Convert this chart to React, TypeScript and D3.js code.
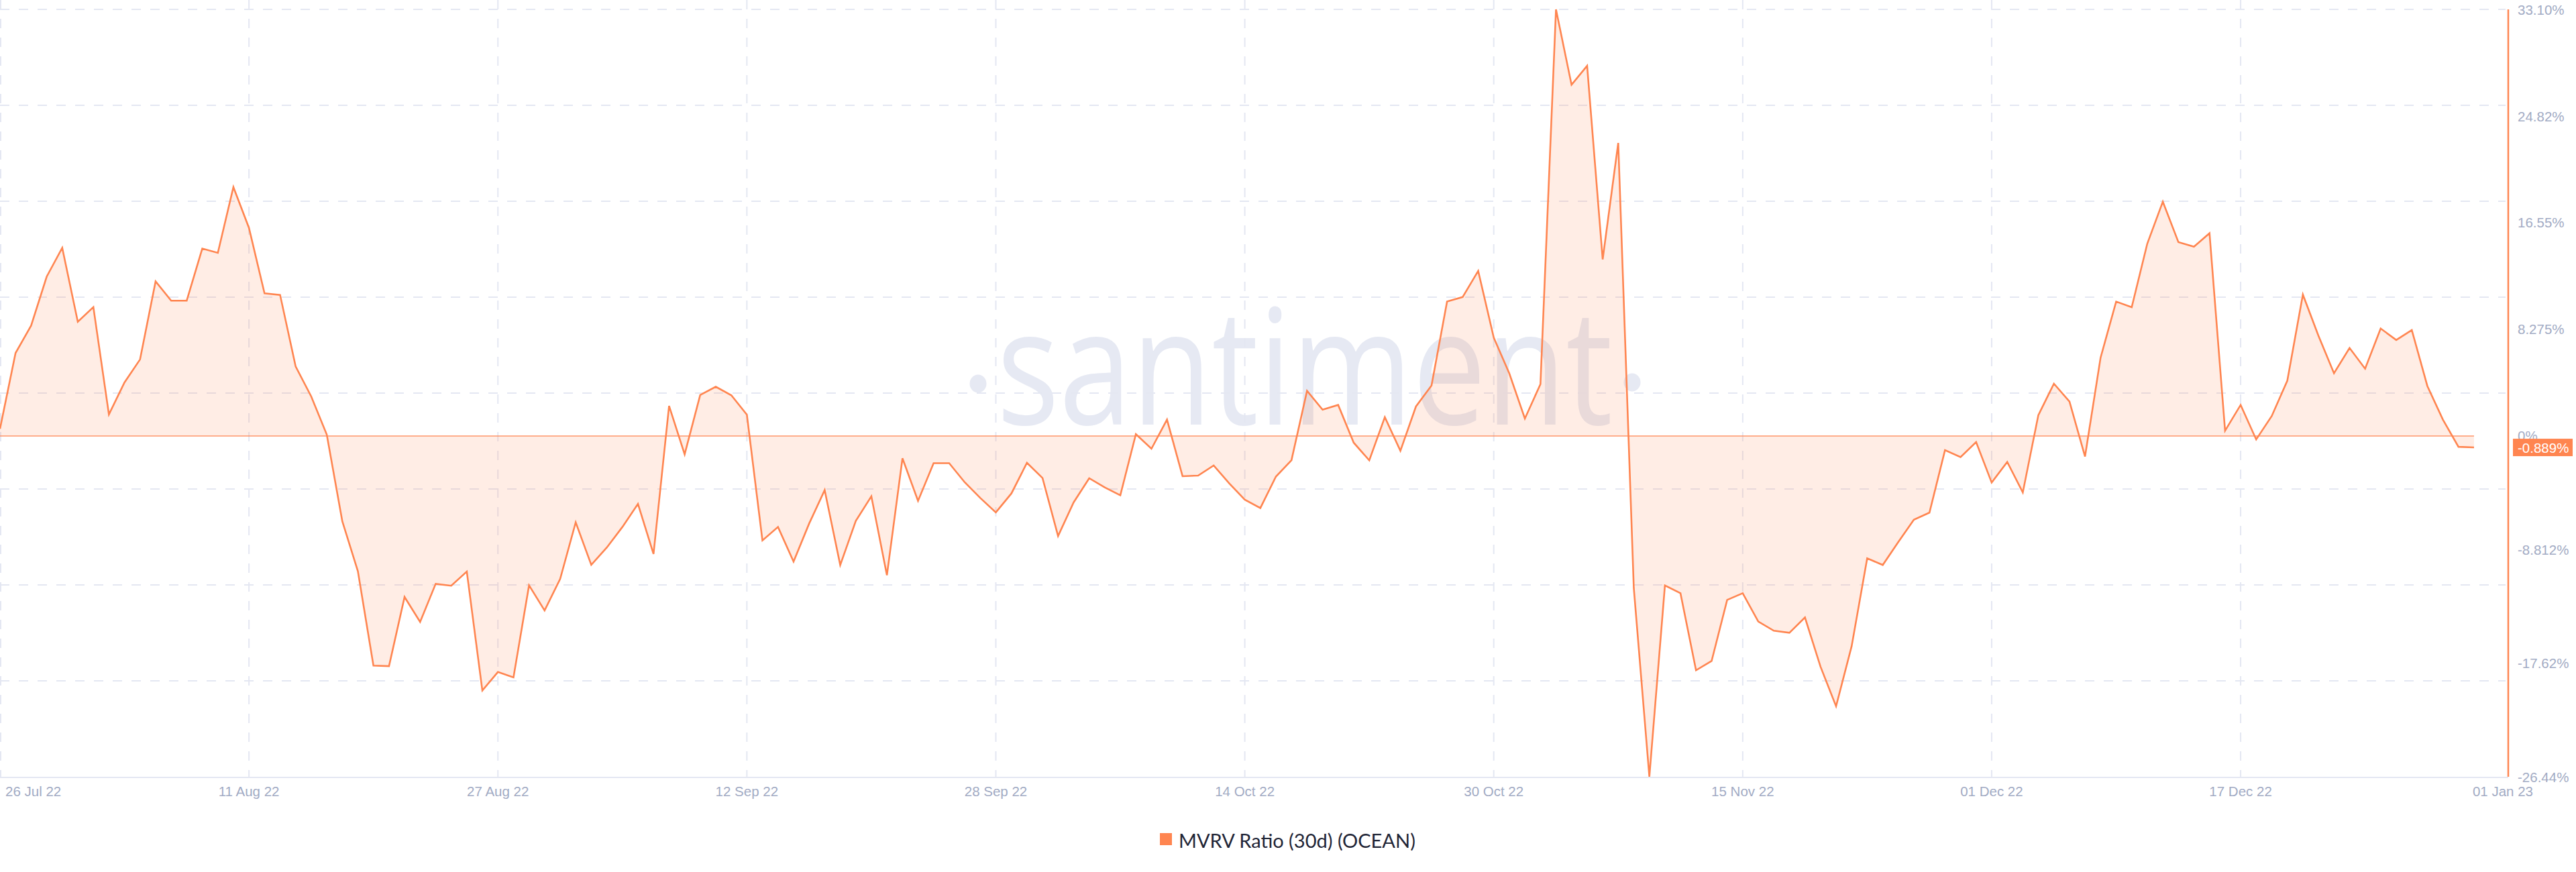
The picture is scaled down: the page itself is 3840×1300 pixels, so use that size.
import React from "react";
import * as d3 from "d3";

const startDate = "2022-07-26";

const mvrvValues: number[] = [
  0.56, 6.44, 8.56, 12.36, 14.6, 8.86, 10.0, 1.67, 4.15, 5.94,
  12.0, 10.5, 10.5, 14.54, 14.21, 19.31, 16.15, 11.07, 10.95, 5.4,
  3.07, 0.11, -6.62, -10.49, -17.81, -17.86, -12.49, -14.43, -11.47, -11.62,
  -10.52, -19.75, -18.31, -18.73, -11.59, -13.54, -11.09, -6.7, -10.0, -8.65,
  -7.06, -5.27, -9.15, 2.33, -1.42, 3.18, 3.82, 3.16, 1.65, -8.1,
  -7.06, -9.75, -6.8, -4.2, -10.01, -6.59, -4.68, -10.8, -1.73, -5.03,
  -2.11, -2.11, -3.59, -4.81, -5.93, -4.46, -2.08, -3.26, -7.76, -5.15,
  -3.28, -3.99, -4.6, 0.14, -0.99, 1.27, -3.12, -3.07, -2.29, -3.68,
  -4.94, -5.59, -3.15, -1.88, 3.5, 2.04, 2.41, -0.52, -1.89, 1.46,
  -1.15, 2.29, 3.92, 10.43, 10.78, 12.81, 7.63, 4.85, 1.35, 4.02,
  33.1, 27.25, 28.72, 13.7, 22.74, -11.8, -26.44, -11.6, -12.2, -18.18,
  -17.46, -12.72, -12.2, -14.4, -15.11, -15.27, -14.08, -17.9, -20.97, -16.31,
  -9.49, -10.01, -8.22, -6.5, -5.95, -1.1, -1.64, -0.47, -3.61, -2.01,
  -4.38, 1.62, 4.06, 2.67, -1.59, 6.08, 10.43, 9.99, 14.92, 18.18,
  15.04, 14.69, 15.73, 0.41, 2.41, -0.27, 1.55, 4.29, 10.97, 7.78,
  4.87, 6.83, 5.22, 8.34, 7.45, 8.22, 3.88, 1.27, -0.84, -0.889,
];

const xTickDates = [
  "2022-07-26", "2022-08-11", "2022-08-27", "2022-09-12", "2022-09-28", "2022-10-14",
  "2022-10-30", "2022-11-15", "2022-12-01", "2022-12-17", "2023-01-01",
];
const xTickLabels = [
  "26 Jul 22", "11 Aug 22", "27 Aug 22", "12 Sep 22", "28 Sep 22", "14 Oct 22",
  "30 Oct 22", "15 Nov 22", "01 Dec 22", "17 Dec 22", "01 Jan 23",
];
const yTickValues = [33.1, 24.82, 16.55, 8.275, 0, -8.812, -17.62, -26.44];
const yTickLabels = ["33.10%", "24.82%", "16.55%", "8.275%", "0%", "-8.812%", "-17.62%", "-26.44%"];
const lastValueLabel = "-0.889%";
const legendLabel = "MVRV Ratio (30d) (OCEAN)";
const watermarkText = "santiment";

const ORANGE = "#ff8550";
const GRID = "#e4e7f2";
const LABEL = "#a2abc4";
const AXIS_FONT = "'Liberation Sans', Arial, sans-serif";

export default function App() {
  const W = 3840;
  const H = 1300;
  const plotTop = 14;
  const plotBottom = 1158;
  const dataRight = 3688;
  const axisX = 3739;

  const parse = d3.utcParse("%Y-%m-%d");
  const start = parse(startDate) as Date;
  const data = mvrvValues.map((v, i) => ({ d: d3.utcDay.offset(start, i), v }));

  const x = d3
    .scaleUtc()
    .domain([data[0].d, data[data.length - 1].d])
    .range([0, dataRight]);
  const y = d3.scaleLinear().domain([-26.44, 33.1]).range([plotBottom, plotTop]);

  const linePath = d3
    .line<{ d: Date; v: number }>()
    .x((p) => x(p.d))
    .y((p) => y(p.v))(data) as string;
  const areaPath = d3
    .area<{ d: Date; v: number }>()
    .x((p) => x(p.d))
    .y0(y(0))
    .y1((p) => y(p.v))(data) as string;

  const gridYs = d3.range(0, 8).map((k) => plotTop + (k * (plotBottom - plotTop)) / 8);
  const ticks = xTickDates.map((s, i) => ({ d: parse(s) as Date, label: xTickLabels[i] }));
  const lastVal = mvrvValues[mvrvValues.length - 1];

  return (
    <div style={{ position: "absolute", left: 0, top: 0 }}>
      <svg width={W} height={H} style={{ display: "block", background: "#fff" }}>
        {/* watermark */}
        <g fill="#e6e9f3">
          <ellipse cx={1458} cy={572} rx={12.5} ry={13.5} />
          <text
            x={1486}
            y={633}
            fontFamily="'Open Sans', 'Noto Sans', sans-serif"
            fontSize={241}
            textLength={918}
            lengthAdjust="spacingAndGlyphs"
          >
            {watermarkText}
          </text>
          <ellipse cx={2433} cy={570} rx={12.5} ry={13.5} />
        </g>

        {/* horizontal grid */}
        {gridYs.map((gy, i) => (
          <line
            key={"h" + i}
            x1={0}
            x2={axisX - 4}
            y1={gy}
            y2={gy}
            stroke={GRID}
            strokeWidth={2}
            strokeDasharray="14 14"
          />
        ))}
        {/* vertical grid */}
        {ticks.slice(0, -1).map((t, i) => (
          <line
            key={"v" + i}
            x1={x(t.d) + (i === 0 ? 1 : 0)}
            x2={x(t.d) + (i === 0 ? 1 : 0)}
            y1={0}
            y2={plotBottom}
            stroke={GRID}
            strokeWidth={2}
            strokeDasharray="14 14"
          />
        ))}
        {/* x axis line */}
        <line x1={0} x2={axisX} y1={plotBottom + 1} y2={plotBottom + 1} stroke={GRID} strokeWidth={2} />

        {/* area + line */}
        <path d={areaPath} fill={ORANGE} fillOpacity={0.15} />
        <line
          x1={x(data[0].d)}
          x2={x(data[data.length - 1].d)}
          y1={y(0)}
          y2={y(0)}
          stroke={ORANGE}
          strokeOpacity={0.85}
          strokeWidth={1.6}
        />
        <path d={linePath} fill="none" stroke={ORANGE} strokeWidth={2.6} strokeLinejoin="miter" />

        {/* right axis */}
        <line x1={axisX} x2={axisX} y1={plotTop} y2={plotBottom} stroke={ORANGE} strokeWidth={2.5} />
        {yTickValues.map((v, i) => (
          <text
            key={"yl" + i}
            x={axisX + 14}
            y={y(v)}
            dominantBaseline="central"
            fill={LABEL}
            fontFamily={AXIS_FONT}
            fontSize={20.5}
          >
            {yTickLabels[i]}
          </text>
        ))}
        <rect x={axisX + 7} y={y(lastVal) - 13} width={W - axisX - 12} height={26} fill={ORANGE} />
        <text
          x={axisX + 14}
          y={y(lastVal)}
          dominantBaseline="central"
          fill="#fff"
          fontFamily={AXIS_FONT}
          fontSize={20.5}
        >
          {lastValueLabel}
        </text>

        {/* x labels */}
        {ticks.map((t, i) => {
          const first = i === 0;
          const last = i === ticks.length - 1;
          const tx = first ? 8 : last ? axisX - 8 : x(t.d);
          return (
            <text
              key={"xl" + i}
              x={tx}
              y={1179}
              textAnchor={first ? "start" : "middle"}
              dominantBaseline="central"
              fill={LABEL}
              fontFamily={AXIS_FONT}
              fontSize={20.5}
            >
              {t.label}
            </text>
          );
        })}

        {/* legend */}
        <rect x={1729} y={1242} width={18} height={18} fill={ORANGE} />
        <text
          x={1757}
          y={1252}
          dominantBaseline="central"
          fill="#1f2536"
          fontFamily="Lato, 'Open Sans', sans-serif"
          fontSize={29}
        >
          {legendLabel}
        </text>
      </svg>
    </div>
  );
}
